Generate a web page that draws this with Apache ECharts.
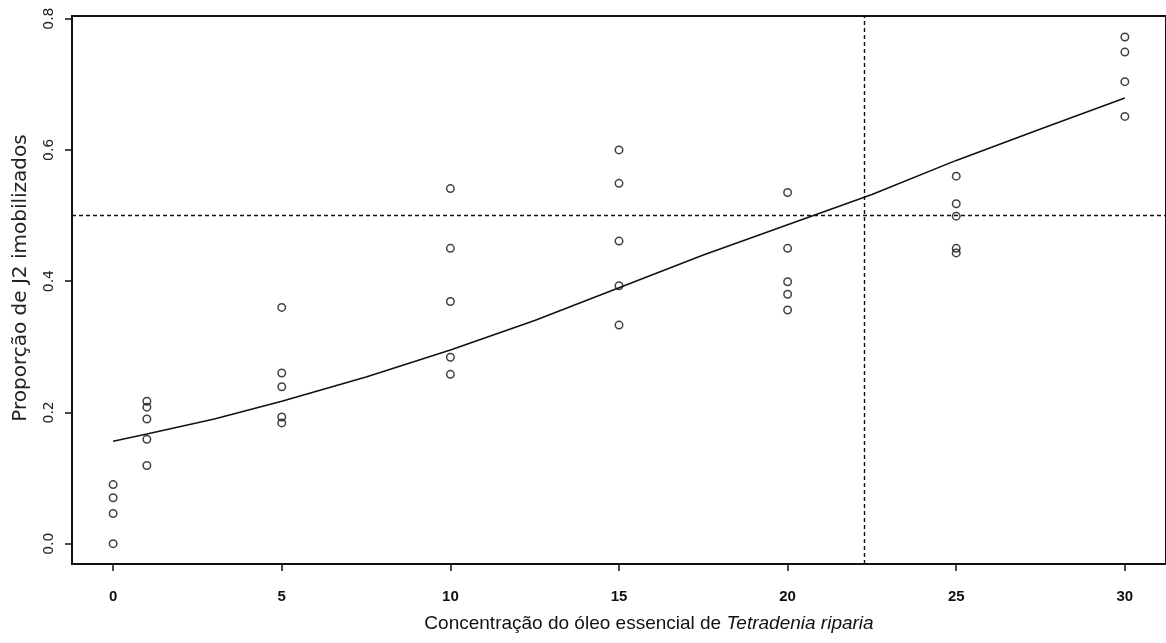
<!DOCTYPE html>
<html>
<head>
<meta charset="utf-8">
<script src="https://cdn.jsdelivr.net/npm/echarts@6/dist/echarts.min.js"></script>
<style>
  html, body { margin: 0; padding: 0; background: #fff; }
  #chart { width: 1166px; height: 643px; }
</style>
</head>
<body>
<div id="chart"></div>
<script>
// Oil concentrations tested and the observed immobilised-J2 proportions per replicate
const doses = [0, 1, 5, 10, 15, 20, 25, 30];
const repsDose0  = [0.090, 0.070, 0.046, 0.000];
const repsDose1  = [0.217, 0.208, 0.190, 0.159, 0.119];
const repsDose5  = [0.360, 0.260, 0.239, 0.193, 0.184];
const repsDose10 = [0.541, 0.450, 0.369, 0.284, 0.258];
const repsDose15 = [0.600, 0.549, 0.461, 0.393, 0.333];
const repsDose20 = [0.535, 0.450, 0.399, 0.380, 0.356];
const repsDose25 = [0.560, 0.518, 0.499, 0.450, 0.443];
const repsDose30 = [0.772, 0.749, 0.704, 0.651];
const replicates = [repsDose0, repsDose1, repsDose5, repsDose10, repsDose15, repsDose20, repsDose25, repsDose30];

// Fitted dose-response curve
const fitX = [0, 1, 3, 5, 7.5, 10, 12.5, 15, 17.5, 20, 22.5, 25, 27.5, 30];
const fitY = [0.156, 0.167, 0.190, 0.217, 0.254, 0.295, 0.340, 0.390, 0.440, 0.486, 0.532, 0.584, 0.632, 0.679];

// Reference lines: 50% level and the estimated concentration reaching it
const halfLevel = 0.5;
const ec50 = 22.27;

// Tick positions
const xTicks = [0, 5, 10, 15, 20, 25, 30];
const yTicks = [0, 0.2, 0.4, 0.6, 0.8];

const points = [];
doses.forEach((d, i) => replicates[i].forEach(v => points.push([d, v])));
const curve = fitX.map((x, i) => [x, fitY[i]]);

const sans = '"Liberation Sans", Arial, sans-serif';
const ink = '#111';

const chart = echarts.init(document.getElementById('chart'), null, { renderer: 'canvas' });
chart.setOption({
  animation: false,
  backgroundColor: '#fff',
  grid: {
    left: 72, top: 16, width: 1098, height: 548,
    show: true, borderColor: '#111', borderWidth: 2, backgroundColor: 'transparent'
  },
  xAxis: {
    type: 'value', min: -1.22, max: 31.22,
    axisLine: { show: false, onZero: false },
    splitLine: { show: false },
    axisTick: { show: true, length: 7, customValues: xTicks, lineStyle: { color: ink, width: 1.5 } },
    axisLabel: {
      customValues: xTicks, margin: 25,
      fontFamily: sans, fontWeight: 'bold', fontSize: 15, color: ink
    },
    name: 'Concentração do óleo essencial de {i|Tetradenia riparia}',
    nameLocation: 'middle', nameGap: 50,
    nameTextStyle: {
      fontFamily: sans, fontSize: 19, color: ink, padding: [0, 0, 0, 60],
      rich: { i: { fontFamily: sans, fontSize: 19, fontStyle: 'italic', color: ink } }
    }
  },
  yAxis: {
    type: 'value', min: -0.031, max: 0.804,
    axisLine: { show: false, onZero: false },
    splitLine: { show: false },
    axisTick: { show: true, length: 7, customValues: yTicks, lineStyle: { color: ink, width: 1.5 } },
    axisLabel: {
      customValues: yTicks, rotate: 90, margin: 16,
      fontFamily: '"DejaVu Sans", sans-serif', fontSize: 14, color: '#222',
      formatter: v => v.toFixed(1)
    },
    name: 'Proporção de J2 imobilizados',
    nameLocation: 'middle', nameGap: 41,
    nameTextStyle: { fontFamily: '"DejaVu Sans", sans-serif', fontSize: 20, color: '#222', padding: [0, 0, 0, 24] }
  },
  series: [
    {
      type: 'line', data: curve, showSymbol: false, symbol: 'none',
      lineStyle: { color: ink, width: 1.6 },
      z: 2,
      markLine: {
        silent: true, symbol: 'none', label: { show: false },
        lineStyle: { color: ink, width: 1.4, type: [4, 3] },
        data: [{ yAxis: halfLevel }, { xAxis: ec50 }]
      }
    },
    {
      type: 'scatter', data: points, symbol: 'circle', symbolSize: 7.5,
      itemStyle: { color: 'rgba(0,0,0,0)', borderColor: ink, borderWidth: 1.5 },
      z: 3
    }
  ]
});
</script>
</body>
</html>
